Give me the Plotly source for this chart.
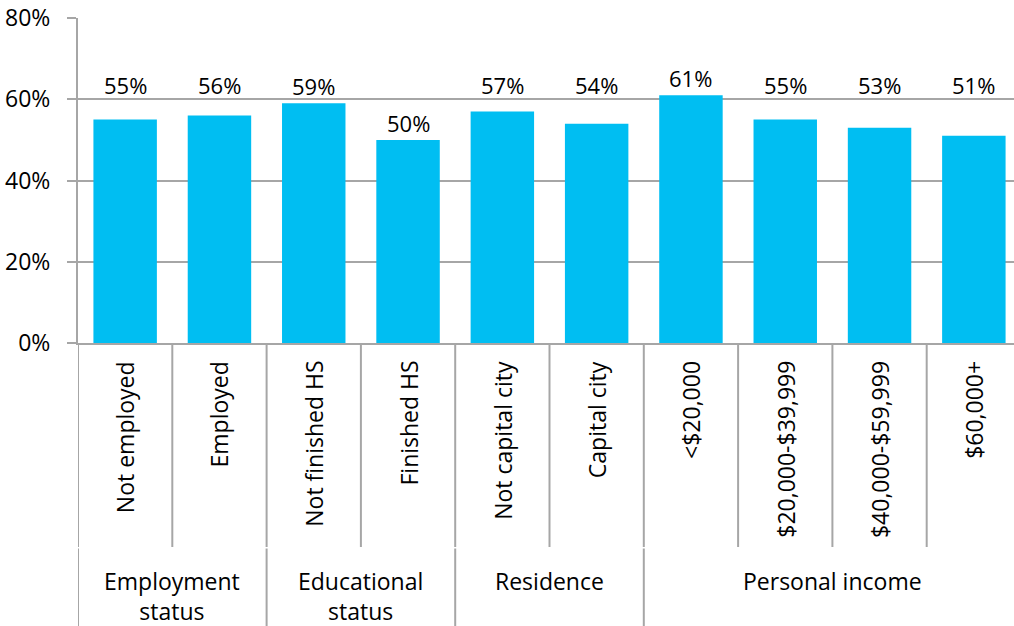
import plotly.graph_objects as go

# Share of respondents by demographic breakdown
categories = [
    "Not employed", "Employed",
    "Not finished HS", "Finished HS",
    "Not capital city", "Capital city",
    "<$20,000", "$20,000-$39,999", "$40,000-$59,999", "$60,000+",
]
values = [55, 56, 59, 50, 57, 54, 61, 55, 53, 51]

group_names = ["Employment<br>status", "Educational<br>status", "Residence", "Personal income"]
group_sizes = [2, 2, 2, 4]

y_ticks = [0, 20, 40, 60, 80]
y_tick_labels = ["0%", "20%", "40%", "60%", "80%"]

# ---- layout constants ----
W, H = 1014, 626
TOP, BOTTOM_PX = 18, 343          # plot area top / bottom in pixels
LEFT = 78
CAT_W = 94.3                      # pixel width of one category slot
FONT = "Open Sans"
FS = 23
BAR_COLOR = "#00BEF2"
LINE_COLOR = "#A6A6A6"
LABEL_LINE = 59.3                 # common baseline for aligned value labels
LABEL_LIFT = 17                   # px between anchor and label centre
ALIGNED_LABELS = {0, 1, 4, 5, 7, 8, 9}   # labels moved up onto the common line


def py(p):
    """Convert a pixel row into paper coordinates of the plot area."""
    return (BOTTOM_PX - p) / (BOTTOM_PX - TOP)


x_idx = list(range(len(categories)))
x_max = -0.5 + (W - LEFT) / CAT_W

fig = go.Figure(
    go.Bar(
        x=x_idx,
        y=values,
        marker=dict(color=BAR_COLOR, line=dict(width=0)),
        hoverinfo="skip",
    )
)

annotations = []
# value labels
for i, v in enumerate(values):
    anchor = LABEL_LINE if i in ALIGNED_LABELS else v
    annotations.append(dict(
        x=i, y=anchor, xref="x", yref="y",
        text=f"{v}%", showarrow=False, yanchor="middle", yshift=LABEL_LIFT,
        font=dict(family=FONT, size=FS - 1, color="#000000"),
    ))

# rotated category labels
for i, c in enumerate(categories):
    annotations.append(dict(
        x=i, y=py(359), xref="x", yref="paper",
        text=c, showarrow=False, textangle=-90,
        xanchor="center", yanchor="top",
        font=dict(family=FONT, size=FS, color="#000000"),
    ))

# group labels and separators
shapes = []
start = 0
group_bounds = [-0.5]
for name, n in zip(group_names, group_sizes):
    centre = start + (n - 1) / 2
    annotations.append(dict(
        x=centre, y=py(564), xref="x", yref="paper",
        text=name, showarrow=False, xanchor="center", yanchor="top",
        borderpad=0,
        font=dict(family=FONT, size=FS, color="#000000"),
    ))
    start += n
    group_bounds.append(start - 0.5)

for b in [k + 0.5 for k in range(len(categories) - 1)] + [-0.5]:
    shapes.append(dict(
        type="line", xref="x", yref="paper", x0=b, x1=b,
        y0=py(BOTTOM_PX), y1=py(547),
        line=dict(color=LINE_COLOR, width=2),
    ))
for b in group_bounds:
    shapes.append(dict(
        type="line", xref="x", yref="paper", x0=b, x1=b,
        y0=py(548.5), y1=py(H + 2),
        line=dict(color=LINE_COLOR, width=2),
    ))

fig.update_layout(
    width=W, height=H,
    margin=dict(l=LEFT, r=0, t=TOP, b=H - BOTTOM_PX, pad=0),
    paper_bgcolor="white", plot_bgcolor="white",
    bargap=0.327,
    showlegend=False,
    annotations=annotations,
    shapes=shapes,
    xaxis=dict(
        range=[-0.5, x_max], showticklabels=False, ticks="",
        showgrid=False, zeroline=False,
        showline=True, linecolor=LINE_COLOR, linewidth=2,
        fixedrange=True,
    ),
    yaxis=dict(
        range=[0, 80], tickvals=y_ticks, ticktext=y_tick_labels,
        showgrid=True, gridcolor=LINE_COLOR, gridwidth=2,
        zeroline=False,
        showline=True, linecolor=LINE_COLOR, linewidth=2,
        ticks="outside", ticklen=9, tickcolor=LINE_COLOR, tickwidth=2,
        ticklabelstandoff=12,
        tickfont=dict(family=FONT, size=FS, color="#000000"),
        fixedrange=True,
    ),
)

fig.write_html("out.html", config={"displayModeBar": False})
